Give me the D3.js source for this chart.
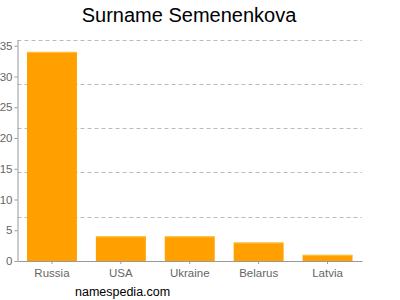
<!DOCTYPE html>
<html>
<head>
<meta charset="utf-8">
<script src="https://cdn.jsdelivr.net/npm/d3@7"></script>
<style>
  body { margin: 0; background: #fff; }
  text { font-family: "Liberation Sans", Arial, sans-serif; }
</style>
</head>
<body>
<div id="chart"></div>
<script>
// chart data
var countries = ['Russia', 'USA', 'Ukraine', 'Belarus', 'Latvia'];
var counts = [34, 4, 4, 3, 1];
var yTicks = [0, 5, 10, 15, 20, 25, 30, 35];
var yMax = 36;
var gridCount = 5; // grid lines split the top in 5 equal parts

var width = 400,
    height = 300,
    margin = { top: 39.6, right: 38, bottom: 39, left: 17.5 };

var svg = d3.select('#chart').append('svg')
    .attr('width', width)
    .attr('height', height);

var x = d3.scaleBand()
    .domain(countries)
    .range([margin.left, width - margin.right])
    .paddingInner(0.275)
    .paddingOuter(0.1375);

var y = d3.scaleLinear()
    .domain([0, yMax])
    .range([height - margin.bottom, margin.top]);

// Title
svg.append('text')
    .attr('x', 189)
    .attr('y', 22)
    .attr('text-anchor', 'middle')
    .attr('font-size', '20px')
    .attr('fill', '#000')
    .text('Surname Semenenkova');

// Dashed grid lines
var gridVals = d3.range(1, gridCount + 1).map(function(i) { return yMax * i / gridCount; });
svg.append('g').selectAll('line')
    .data(gridVals)
    .enter().append('line')
    .attr('x1', margin.left)
    .attr('x2', width - margin.right)
    .attr('y1', function(d) { return Math.round(y(d)) + 0.5; })
    .attr('y2', function(d) { return Math.round(y(d)) + 0.5; })
    .attr('stroke', '#bbb')
    .attr('stroke-dasharray', '4,3');

// Bars
var bars = svg.append('g');
bars.selectAll('rect')
    .data(counts)
    .enter().append('rect')
    .attr('x', function(d, i) { return x(countries[i]); })
    .attr('y', function(d) { return y(d); })
    .attr('width', x.bandwidth())
    .attr('height', function(d) { return y(0) - y(d); })
    .attr('fill', '#ffa000');
// lighter top edge of each bar
bars.selectAll('line')
    .data(counts)
    .enter().append('line')
    .attr('x1', function(d, i) { return x(countries[i]); })
    .attr('x2', function(d, i) { return x(countries[i]) + x.bandwidth(); })
    .attr('y1', function(d) { return y(d) + 0.5; })
    .attr('y2', function(d) { return y(d) + 0.5; })
    .attr('stroke', '#ffbf40');

// Y axis
var yAxis = svg.append('g')
    .attr('transform', 'translate(' + margin.left + ',0)')
    .call(d3.axisLeft(y).tickValues(yTicks).tickSize(3).tickPadding(2).tickSizeOuter(0));

// X axis
var xAxis = svg.append('g')
    .attr('transform', 'translate(0,' + y(0) + ')')
    .call(d3.axisBottom(x).tickSize(3).tickPadding(5).tickSizeOuter(0));

[yAxis, xAxis].forEach(function(ax) {
    ax.select('.domain').attr('stroke', '#999');
    ax.selectAll('.tick line').attr('stroke', '#999');
    ax.selectAll('.tick text')
        .attr('fill', '#666')
        .attr('font-size', '11.5px')
        .style('font-family', '"Liberation Sans", Arial, sans-serif');
});

// Footer
svg.append('text')
    .attr('x', 75)
    .attr('y', 296)
    .attr('font-size', '12.5px')
    .attr('fill', '#000')
    .text('namespedia.com');
</script>
</body>
</html>
